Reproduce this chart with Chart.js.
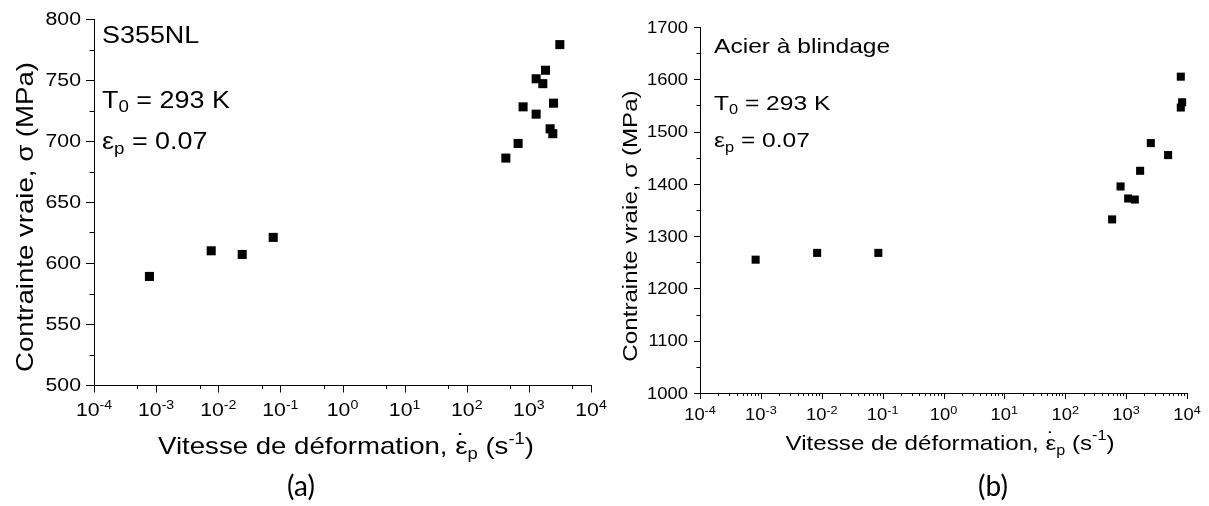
<!DOCTYPE html>
<html>
<head>
<meta charset="utf-8">
<script src="https://cdn.jsdelivr.net/npm/chart.js@4.4.0/dist/chart.umd.min.js"></script>
<style>
  html, body { margin: 0; padding: 0; background: #fff; }
  #wrap { position: relative; width: 1209px; height: 506px; overflow: hidden; }
  canvas { position: absolute; top: 0; }
</style>
</head>
<body>
<div id="wrap">
  <canvas id="chartA" width="625" height="506" style="left:0px"></canvas>
  <canvas id="chartB" width="605" height="506" style="left:604px"></canvas>
</div>
<script>
// ---- data ----
// (a) S355NL
var rateA   = [7.8e-4, 7.7e-3, 0.0243, 0.0767, 426, 671, 807, 1309, 1309, 1676, 1853, 2198, 2428, 2494, 3150];
var stressA = [589,    610,    607,    621,    686, 698, 728, 751,  722,  747,  758,  710,  706,  731,  779];
// (b) Acier a blindage
var rateB   = [8.2e-4, 8.4e-3, 0.085, 589,  810,  1080, 1390, 1698, 2546, 4898, 7910, 8320, 7910];
var stressB = [1255,   1268,   1268,  1332, 1395, 1372, 1370, 1425, 1478, 1455, 1605, 1556, 1546];

// tick labels
var xExp     = [-4, -3, -2, -1, 0, 1, 2, 3, 4];
var yTicksA  = [500, 550, 600, 650, 700, 750, 800];
var yTicksB  = [1000, 1100, 1200, 1300, 1400, 1500, 1600, 1700];
var minorMulA = [5];
var minorMulB = [2, 3, 4, 5, 6, 7, 8, 9];

var FAM = "'Liberation Sans', Arial, sans-serif";

function toPts(xs, ys){
	var pts = [];
	for(var i=0;i<xs.length;i++){
		pts.push({x: xs[i], y: ys[i]});
	}
	return pts;
}

// draws a line of text made of pieces (sub/superscripts, dot above)
function rich(ctx, segs, x, y, o){
	var ws = [], w = 0;
	segs.forEach(function(s){
		ctx.font = s.f + 'px ' + (s.fam || FAM);
		var m = s.over ? 0 : ctx.measureText(s.t).width;
		ws.push(m); w += m;
	});
	ctx.save();
	ctx.translate(x, y);
	if(o.rot) ctx.rotate(-Math.PI/2);
	ctx.scale(o.stretch || 1, 1);
	ctx.fillStyle = '#000';
	ctx.textAlign = 'left';
	ctx.textBaseline = 'alphabetic';
	var cx = o.align === 'center' ? -w/2 : (o.align === 'right' ? -w : 0);
	segs.forEach(function(s, i){
		ctx.font = s.f + 'px ' + (s.fam || FAM);
		if(s.over){
			var mw = ctx.measureText(s.t).width;
			ctx.fillText(s.t, cx - ws[i-1]/2 - mw/2, s.dy || 0);
		} else {
			ctx.fillText(s.t, cx, s.dy || 0);
			cx += ws[i];
		}
	});
	ctx.restore();
}

function decor(c){
	return {
		id: 'decor',
		afterDraw: function(chart){
			var ctx = chart.ctx, xs = chart.scales.x, ys = chart.scales.y;
			var L = chart.chartArea.left, B = chart.chartArea.bottom;
			ctx.save();
			ctx.strokeStyle = '#000';
			ctx.lineWidth = 1;
			ctx.beginPath();
			// y ticks
			for(var i=0;i<c.yTicks.length;i++){
				var py = Math.round(ys.getPixelForValue(c.yTicks[i])) + 0.5;
				ctx.moveTo(L - c.yMaj, py); ctx.lineTo(L, py);
				if(i < c.yTicks.length-1){
					var pm = Math.round(ys.getPixelForValue((c.yTicks[i]+c.yTicks[i+1])/2)) + 0.5;
					ctx.moveTo(L - c.yMin, pm); ctx.lineTo(L, pm);
				}
			}
			// x ticks (log)
			for(var j=0;j<xExp.length;j++){
				var px = Math.round(xs.getPixelForValue(Math.pow(10, xExp[j]))) + 0.5;
				ctx.moveTo(px, B); ctx.lineTo(px, B + c.xMaj);
				if(j < xExp.length-1){
					c.minorMul.forEach(function(m){
						var pn = Math.round(xs.getPixelForValue(m*Math.pow(10, xExp[j]))) + 0.5;
						ctx.moveTo(pn, B); ctx.lineTo(pn, B + c.xMin);
					});
				}
			}
			ctx.stroke();
			ctx.restore();

			// tick labels
			c.yTicks.forEach(function(v){
				var py = ys.getPixelForValue(v);
				rich(ctx, [{t: String(v), f: c.yFont}], c.yLabRight, py + c.yFont*0.36, {align:'right', stretch: c.tickStretch});
			});
			xExp.forEach(function(e){
				var px = xs.getPixelForValue(Math.pow(10, e));
				rich(ctx, [{t:'10', f:c.xFont}, {t: String(e), f: c.xSup, dy: c.xSupDy}],
					px, B + c.xLabDy, {align:'center', stretch: c.tickStretch});
			});

			// axis titles
			var tf = c.titleFont, sf = Math.round(tf*0.66);
			rich(ctx, [
				{t:'Vitesse de déformation, ', f:tf},
				{t:'ε', f:tf},
				{t:'˙', f:tf, over:true, dy:-4},
				{t:'p', f:sf, dy:5},
				{t:' (s', f:tf},
				{t:'-1', f:sf, dy:-10},
				{t:')', f:tf}
			], c.xTitleX, c.xTitleY, {align:'center', stretch:1.15});
			rich(ctx, [{t:'Contrainte vraie, σ (MPa)', f:tf}], c.yTitleX, c.yTitleY, {align:'center', stretch:1.15, rot:true});

			// annotations
			var af = c.annFont, bf = Math.round(af*0.68);
			rich(ctx, [{t:c.name, f:c.nameFont}], c.annX, c.nameY, {stretch:1.17});
			rich(ctx, [{t:'T', f:af}, {t:'0', f:bf, dy:4}, {t:' = 293 K', f:af}], c.annX, c.tY, {stretch:1.17});
			rich(ctx, [{t:'ε', f:af}, {t:'p', f:bf, dy:5}, {t:' = 0.07', f:af}], c.annX, c.eY, {stretch:1.17});

			// caption
			rich(ctx, [{t:c.caption, f:28, fam:"Lato, 'Open Sans', sans-serif"}], c.capX, 496, {align:'center'});
		}
	};
}

function makeChart(id, xs, ys, yMin, yMax, pad, yW, xH, radius, c){
	var ctx = document.getElementById(id);
	return new Chart(ctx, {
		type: 'scatter',
		data: {
			datasets: [{
				data: toPts(xs, ys),
				pointStyle: 'rect',
				pointRadius: radius,
				backgroundColor: '#000',
				borderWidth: 0
			}]
		},
		options: {
			responsive: false,
			animation: false,
			events: [],
			layout: { padding: pad },
			plugins: { legend: { display: false }, tooltip: { enabled: false } },
			scales: {
				x: {
					type: 'logarithmic', min: 1e-4, max: 1e4,
					grid: { display: false },
					ticks: { display: false },
					border: { display: true, color: '#000', width: 1 },
					afterFit: function(s){ s.height = xH; }
				},
				y: {
					type: 'linear', min: yMin, max: yMax,
					grid: { display: false },
					ticks: { display: false },
					border: { display: true, color: '#000', width: 1 },
					afterFit: function(s){ s.width = yW; }
				}
			}
		},
		plugins: [decor(c)]
	});
}

makeChart('chartA', rateA, stressA, 500, 800, {left:0, top:19, right:34, bottom:0}, 94, 121, 6.4, {
	yTicks: yTicksA, minorMul: minorMulA,
	yMaj: 8, yMin: 4.5, xMaj: 7.5, xMin: 4,
	yFont: 18, xFont: 18, xSup: 12, xSupDy: -7, tickStretch: 1.18,
	yLabRight: 81, xLabDy: 31,
	titleFont: 24, xTitleX: 346, xTitleY: 454, yTitleX: 33, yTitleY: 217,
	name: 'S355NL', nameFont: 23, annFont: 23, annX: 102, nameY: 43, tY: 108, eY: 149,
	caption: '(a)', capX: 301
});

makeChart('chartB', rateB, stressB, 1000, 1700, {left:0, top:27, right:22, bottom:0}, 96, 113, 5.7, {
	yTicks: yTicksB, minorMul: minorMulB,
	yMaj: 6, yMin: 3.5, xMaj: 6, xMin: 3,
	yFont: 16, xFont: 16, xSup: 11, xSupDy: -6, tickStretch: 1.15,
	yLabRight: 84, xLabDy: 27,
	titleFont: 21, xTitleX: 346, xTitleY: 450, yTitleX: 33, yTitleY: 226,
	name: 'Acier à blindage', nameFont: 21, annFont: 21, annX: 110, nameY: 53, tY: 110, eY: 147,
	caption: '(b)', capX: 389
});
</script>
</body>
</html>
